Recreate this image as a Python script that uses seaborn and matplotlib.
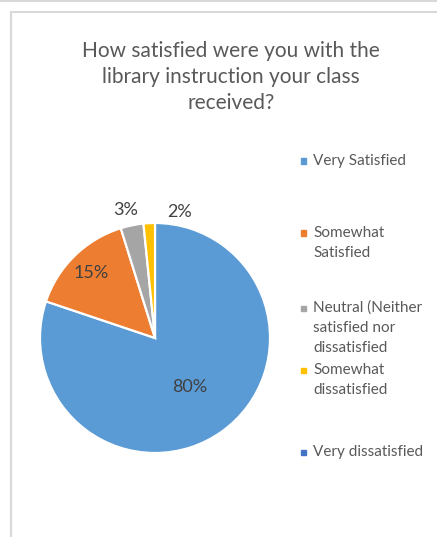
import numpy as np
import matplotlib
matplotlib.use('Agg')
import matplotlib.pyplot as plt
from matplotlib.lines import Line2D
from matplotlib.patches import Rectangle
import seaborn as sns

sns.set_theme(style='white')
plt.rcParams['font.family'] = ['Lato', 'DejaVu Sans']

# Survey answers (share of respondents, %)
categories = ['Very Satisfied', 'Somewhat\nSatisfied',
              'Neutral (Neither\nsatisfied nor\ndissatisfied',
              'Somewhat\ndissatisfied', 'Very dissatisfied']
shares = [80.0, 15.0, 3.2, 1.6, 0.0]
colors = ['#5B9BD5', '#ED7D31', '#A5A5A5', '#FFC000', '#4472C4']

title = 'How satisfied were you with the\nlibrary instruction your class\nreceived?'

W, H = 437, 537
fig = plt.figure(figsize=(W / 100, H / 100), dpi=100)

# frame lines like the chart area border
fig.add_artist(Line2D([0, 1], [1 - 1 / H, 1 - 1 / H], color='#D9D9D9', lw=1.5))
fig.add_artist(Line2D([11 / W, 1], [1 - 12 / H, 1 - 12 / H], color='#D9D9D9', lw=1.5))
fig.add_artist(Line2D([11 / W, 11 / W], [0, 1 - 12 / H], color='#D9D9D9', lw=1.6))

fig.text(231 / W, 1 - 77 / H, title, ha='center', va='center', fontsize=15,
         color='#595959', linespacing=1.35)

# pie centred at (155, 338) px, radius 115 px
cx, cy, r = 155, 338, 115
ax = fig.add_axes([(cx - r) / W, (H - cy - r) / H, 2 * r / W, 2 * r / H])
vals = [v for v in shares if v > 0]
wedges, _, autotexts = ax.pie(vals, colors=colors[:len(vals)], startangle=90,
                              counterclock=False, autopct='%.0f%%',
                              wedgeprops=dict(edgecolor='white', linewidth=1.6),
                              textprops=dict(color='#404040', fontsize=13))
ax.set_xlim(-1, 1)
ax.set_ylim(-1, 1)
ax.axis('off')

# label placement: (distance from centre, angle shift in degrees)
placement = [(0.52, 0), (0.79, 0), (1.14, 1.5), (1.12, -14)]
for w, t, (d, shift) in zip(wedges, autotexts, placement):
    ang = np.deg2rad((w.theta1 + w.theta2) / 2 + shift)
    t.set_position((d * np.cos(ang), d * np.sin(ang)))
    t.set_clip_on(False)

# legend entries, key aligned with the first line of each label
legend_y = [161, 233, 308, 370, 452]
key = 5
for lab, col, y in zip(categories, colors, legend_y):
    fig.add_artist(Rectangle(((303 - key / 2) / W, 1 - (y + key / 2) / H),
                             key / W, key / H, color=col, transform=fig.transFigure))
    for i, line in enumerate(lab.split('\n')):
        fig.text(313 / W, 1 - (y + 20 * i) / H, line, ha='left', va='center',
                 fontsize=11, color='#595959')

fig.savefig('out.png', dpi=100, facecolor='white')
